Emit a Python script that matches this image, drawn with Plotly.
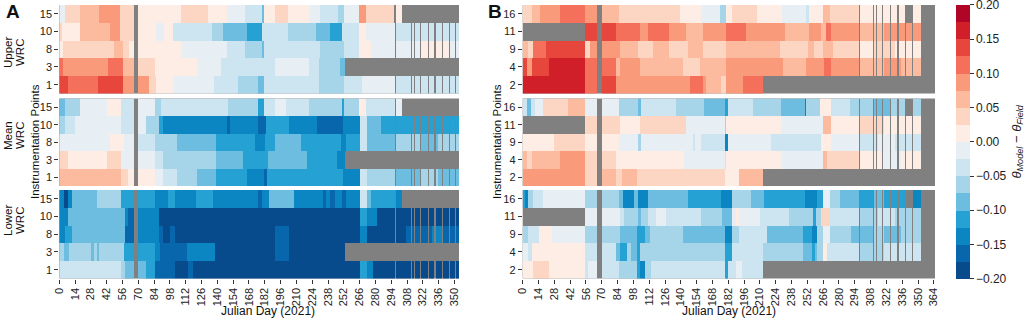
import numpy as np
import plotly.graph_objects as go

# ---------------- data (piecewise-constant runs) ----------------
# each run: (start_day, colour-bin level); level k means value in [k*0.025, (k+1)*0.025); None = no data
N_DAYS_A = 354
N_DAYS_B = 365
ROWS_A = ["15", "10", "8", "3", "1"]
ROWS_B = ["16", "11", "9", "4", "2"]
X_TICKS_A = list(range(0, 351, 14))
X_TICKS_B = list(range(0, 365, 14))
GAP_DAYS_A = [297, 311, 314, 319, 326, 332, 339, 345, 350]
GAP_DAYS_B = [298, 310, 313, 318, 325, 332, 339, 345]
BIN = 0.025

A_UPPER = [
    [(0,-1),(5,1),(18,2),(35,3),(54,1),(66,None),(70,0),(108,1),(132,0),(148,-1),(164,-2),(179,-4),(181,0),(191,1),(202,0),(221,-1),(231,-2),(247,-3),(252,-1),(265,3),(271,1),(296,None),(298,0),(303,None)],
    [(0,1),(2,0),(18,2),(45,3),(54,1),(66,None),(70,0),(86,-1),(93,0),(101,-2),(135,-3),(145,-4),(166,-5),(179,-2),(202,-3),(227,-4),(240,-5),(250,-2),(265,0),(271,-1),(298,-2)],
    [(0,0),(3,1),(48,2),(56,1),(62,0),(66,None),(70,0),(108,-1),(148,-2),(164,-3),(179,-4),(181,-2),(231,-3),(252,-2),(265,0),(276,-1),(320,0),(345,-1)],
    [(0,4),(3,3),(43,4),(56,2),(66,None),(70,1),(85,0),(122,-1),(143,-2),(191,-1),(221,-2),(230,-3),(248,-4),(253,None)],
    [(0,5),(8,4),(34,5),(56,3),(66,None),(70,3),(79,1),(86,0),(101,-1),(137,-2),(158,-3),(176,-4),(181,-2),(230,-3),(252,-2),(268,-1),(298,-2)],
]
A_MEAN = [
    [(0,-4),(5,-3),(18,-1),(42,0),(55,-2),(66,None),(70,-1),(85,-3),(90,-2),(149,-3),(176,-5),(181,-2),(191,-1),(201,-2),(221,-3),(250,-5),(252,-3),(265,0),(271,-2),(297,None),(298,-1),(303,None)],
    [(0,-3),(5,-2),(14,-1),(55,-2),(66,None),(70,-1),(77,-3),(88,-5),(92,-6),(148,-7),(151,-6),(176,-7),(183,-5),(203,-6),(228,-7),(251,-6),(266,-2),(272,-4),(285,-5)],
    [(0,-1),(45,0),(57,-1),(66,None),(70,-2),(85,-3),(104,-4),(139,-5),(173,-6),(182,-5),(191,-4),(214,-5),(249,-6),(254,-5),(266,-2),(272,-4),(298,-3),(320,-4),(335,-3)],
    [(0,1),(8,0),(42,1),(55,-1),(66,None),(70,-1),(85,-2),(92,-3),(139,-4),(163,-5),(185,-4),(219,-5),(246,-6),(253,None)],
    [(0,2),(55,1),(61,0),(66,None),(70,0),(85,-1),(92,-2),(104,-3),(122,-4),(139,-5),(166,-6),(181,-7),(184,-5),(251,-6),(266,-2),(272,-3),(298,-4),(320,-3),(335,-4)],
]
A_LOWER = [
    [(0,-6),(4,-8),(8,-6),(11,-4),(33,-3),(55,-5),(66,None),(70,-5),(85,-6),(96,-5),(102,-6),(121,-5),(136,-6),(176,-7),(179,-6),(186,-4),(208,-6),(233,-7),(236,-6),(240,-7),(244,-6),(250,-7),(254,-6),(266,-2),(272,-4),(276,-5),(298,-6),(303,None)],
    [(0,-6),(8,-4),(58,-6),(61,-7),(66,None),(70,-6),(88,-8),(266,-5),(272,-6),(281,-8)],
    [(0,-6),(5,-5),(11,-4),(58,-7),(66,None),(70,-6),(88,-7),(92,-8),(98,-7),(102,-8),(191,-7),(203,-8),(266,-6),(272,-8),(307,-7),(330,-6),(340,-7)],
    [(0,-3),(4,-4),(9,-3),(28,-4),(31,-3),(33,-4),(35,-3),(57,-5),(66,None),(70,-5),(85,-6),(89,-7),(113,-6),(138,-8),(191,-7),(203,-8),(253,None)],
    [(0,-2),(55,-3),(58,-4),(66,None),(70,-4),(77,-5),(85,-7),(102,-8),(114,-7),(118,-8),(266,-5),(272,-6),(278,-8)],
]
B_UPPER = [
    [(0,1),(8,2),(15,3),(33,4),(55,3),(66,None),(70,2),(85,1),(139,0),(158,-1),(175,-3),(180,0),(185,1),(208,0),(230,-1),(251,-2),(254,0),(266,2),(272,1),(298,0),(339,None),(346,0),(353,None)],
    [(0,None),(55,5),(66,None),(70,5),(83,4),(104,3),(111,4),(130,3),(145,2),(160,3),(180,4),(198,3),(232,2),(254,3),(264,2),(269,4),(273,3),(298,2),(320,3),(353,None)],
    [(0,2),(5,1),(9,4),(21,5),(55,1),(60,3),(66,None),(70,3),(86,2),(102,1),(115,2),(130,1),(146,2),(160,1),(180,2),(228,1),(253,2),(258,1),(266,2),(275,1),(298,0),(310,1),(330,0),(353,None)],
    [(0,5),(4,3),(8,5),(23,6),(55,4),(66,None),(70,4),(83,2),(86,3),(104,2),(142,1),(157,2),(180,3),(231,2),(251,3),(267,4),(273,3),(298,2),(320,3),(335,2),(353,None)],
    [(0,6),(55,4),(66,None),(70,5),(83,3),(148,4),(160,3),(162,2),(176,1),(180,3),(195,4),(213,None)],
]
B_MEAN = [
    [(0,-2),(4,-4),(7,-2),(11,-1),(18,1),(40,2),(55,-1),(66,None),(70,-1),(85,-3),(102,-4),(105,-2),(136,-3),(161,-4),(179,-5),(182,-2),(204,-3),(229,-4),(250,-6),(251,-3),(263,0),(273,-2),(290,-3),(310,-4),(325,-3),(339,None),(346,-3),(353,None)],
    [(0,None),(55,1),(66,None),(70,1),(86,0),(104,1),(145,-1),(179,-3),(180,0),(229,-1),(266,2),(273,0),(298,1),(320,0),(353,None)],
    [(0,0),(28,1),(55,0),(66,None),(70,0),(85,-1),(102,-3),(105,-1),(151,-2),(153,-1),(158,-2),(179,-6),(182,-1),(220,-2),(264,0),(273,-1),(298,-2),(315,-1),(330,-2),(353,None)],
    [(0,2),(4,1),(8,2),(33,3),(55,1),(66,None),(70,1),(83,0),(143,-1),(179,-2),(180,0),(229,-1),(266,2),(270,1),(298,0),(320,-1),(335,0),(353,None)],
    [(0,3),(55,1),(66,None),(70,2),(83,1),(88,2),(101,1),(179,0),(192,2),(213,None)],
]
B_LOWER = [
    [(0,-5),(2,-6),(5,-3),(9,-2),(18,-1),(55,-3),(66,None),(70,-3),(85,-4),(89,-6),(99,-4),(102,-6),(111,-4),(146,-5),(176,-6),(185,-3),(202,-4),(214,-5),(250,-6),(261,-5),(266,-1),(272,-3),(281,-4),(298,-5),(310,-4),(320,-5),(339,None),(346,-6),(353,None)],
    [(0,None),(55,-1),(66,None),(70,-1),(86,-2),(90,-3),(102,-4),(105,-3),(111,-2),(118,-1),(127,-2),(158,-3),(177,-4),(185,-1),(189,0),(192,-1),(210,-2),(236,-3),(257,-5),(260,-3),(264,1),(272,-2),(298,-3),(315,-2),(330,-3),(353,None)],
    [(0,-3),(5,-2),(14,0),(26,-1),(55,-3),(66,None),(70,-3),(86,-4),(101,-5),(108,-4),(113,-3),(142,-4),(179,-6),(185,-3),(192,-2),(216,-4),(248,-5),(256,-6),(261,-3),(266,-1),(272,-3),(291,-4),(310,-3),(320,-4),(335,-3),(353,None)],
    [(0,-1),(5,-2),(8,0),(55,-2),(66,None),(70,-2),(83,-4),(86,-5),(92,-3),(96,-4),(101,-5),(104,-3),(179,-5),(185,-2),(213,-3),(248,-4),(256,-5),(259,-4),(261,-3),(266,0),(270,-2),(298,-3),(320,-2),(353,None)],
    [(0,0),(9,1),(23,0),(55,-2),(58,-1),(66,None),(70,-2),(85,-3),(101,-5),(104,-6),(108,-3),(114,-2),(179,-5),(182,-2),(189,-1),(194,-2),(213,None)],
]

BIN_COLORS = ["#074b8c", "#0867ac", "#0b86c2", "#26a1d3", "#6dbde0", "#a6d5e9", "#cde5f1", "#e7eff5",
              "#fdede4", "#fdd6c3", "#fcbb9e", "#f99a7a", "#f4705a", "#e6463c", "#d11f2a", "#b00526"]
CB_TICKS = [0.20, 0.15, 0.10, 0.05, 0.00, -0.05, -0.10, -0.15, -0.20]


def expand(runs, n, gaps):
    arr = np.full(n, np.nan)
    for i, (start, lvl) in enumerate(runs):
        end = runs[i + 1][0] if i + 1 < len(runs) else n
        if lvl is not None:
            arr[start:end] = (lvl + 0.5) * BIN
    for g in gaps:
        if g < n:
            arr[g] = np.nan
    return arr


W, H = 1024, 319
def px(x):
    return x / W
def py(y):
    return 1 - y / H

XA = (59.3, 459.0)
XB = (522.7, 935.0)
YP = [(5, 93.5), (98.5, 186), (190, 278.5)]

colorscale = []
for k, c in enumerate(BIN_COLORS):
    colorscale.append([k / 16, c])
    colorscale.append([(k + 1) / 16, c])

fig = go.Figure()
layout = {}
FONT = "Liberation Sans, Arial, sans-serif"
panels = [(A_UPPER, 0, "A"), (A_MEAN, 1, "A"), (A_LOWER, 2, "A"),
          (B_UPPER, 0, "B"), (B_MEAN, 1, "B"), (B_LOWER, 2, "B")]
for i, (data, r, p) in enumerate(panels):
    n = N_DAYS_A if p == "A" else N_DAYS_B
    gaps = GAP_DAYS_A if p == "A" else GAP_DAYS_B
    rows = ROWS_A if p == "A" else ROWS_B
    z = np.array([expand(runs, n, gaps) for runs in data])
    ax = i + 1
    xname = "xaxis" if ax == 1 else f"xaxis{ax}"
    yname = "yaxis" if ax == 1 else f"yaxis{ax}"
    fig.add_trace(go.Heatmap(
        z=z, x=np.arange(n) + 0.5, y=list(range(5)),
        zmin=-0.2, zmax=0.2, colorscale=colorscale, zsmooth=False,
        showscale=(i == 0), hoverongaps=False,
        xaxis="x" if ax == 1 else f"x{ax}", yaxis="y" if ax == 1 else f"y{ax}",
        colorbar=dict(
            x=px(956), xanchor="left", xpad=0, ypad=0,
            y=py((5 + 278.6) / 2), yanchor="middle", len=273.6 / H, lenmode="fraction",
            thickness=14, thicknessmode="pixels", outlinewidth=0,
            tickvals=[v * 0.9995 for v in CB_TICKS],
            ticktext=[f"{v:.2f}".replace("-", "\u2212") for v in CB_TICKS],
            ticklabeloverflow="allow",
            ticks="outside", ticklen=4, tickcolor="#333", tickfont=dict(size=12, color="#222", family=FONT),
            title=dict(text="<i>\u03b8<sub>Model</sub></i> \u2212 <i>\u03b8<sub>Field</sub></i>",
                       side="right", font=dict(size=13, color="#222", family=FONT)),
        ) if i == 0 else None,
    ))
    xd = XA if p == "A" else XB
    yd = YP[r]
    bottom = (r == 2)
    ticks = X_TICKS_A if p == "A" else X_TICKS_B
    layout[xname] = dict(domain=[px(xd[0]), px(xd[1])], range=[0, n], showgrid=False, zeroline=False,
                         anchor="y" if ax == 1 else f"y{ax}", automargin=False,
                         tickvals=ticks if bottom else [], ticktext=[str(t) for t in ticks] if bottom else [],
                         ticks="outside" if bottom else "", ticklen=4, tickcolor="#333", tickangle=-90,
                         tickfont=dict(size=11, color="#222", family=FONT), showline=False)
    layout[yname] = dict(domain=[py(yd[1]), py(yd[0])], range=[4.5, -0.5], showgrid=False, zeroline=False,
                         anchor="x" if ax == 1 else f"x{ax}", automargin=False,
                         tickvals=list(range(5)), ticktext=rows, ticks="outside", ticklen=4, tickcolor="#333",
                         tickfont=dict(size=11, color="#222", family=FONT), showline=False)

ann = []
def add_text(x, y, text, size=12, angle=0, bold=False, xanchor="center", yanchor="middle"):
    ann.append(dict(x=px(x), y=py(y), xref="paper", yref="paper", text=f"<b>{text}</b>" if bold else text,
                    showarrow=False, textangle=angle, xanchor=xanchor, yanchor=yanchor,
                    font=dict(size=size, color="#111", family=FONT)))

add_text(4, 12, "A", size=19, bold=True, xanchor="left")
add_text(486, 12, "B", size=19, bold=True, xanchor="left")
for label, yc in [("Upper", 53), ("Mean", 136), ("Lower", 221)]:
    add_text(8, yc, label, size=11.5, angle=-90)
    add_text(20, yc, "WRC", size=11.5, angle=-90)
add_text(35, 142, "Instrumentation Points", size=11.5, angle=-90)
add_text(497, 142, "Instrumentation Points", size=11.5, angle=-90)
add_text(268, 311, "Julian Day (2021)")
add_text(729, 311, "Julian Day (2021)")

fig.update_layout(
    width=W, height=H, margin=dict(l=0, r=0, t=0, b=0, autoexpand=False),
    paper_bgcolor="white", plot_bgcolor="#808080",
    annotations=ann, showlegend=False, font=dict(family=FONT),
    **layout,
)
fig.write_html("out.html", config={"displayModeBar": False},
               post_script="document.body.style.margin='0';document.body.style.padding='0';document.body.style.overflow='hidden';")
